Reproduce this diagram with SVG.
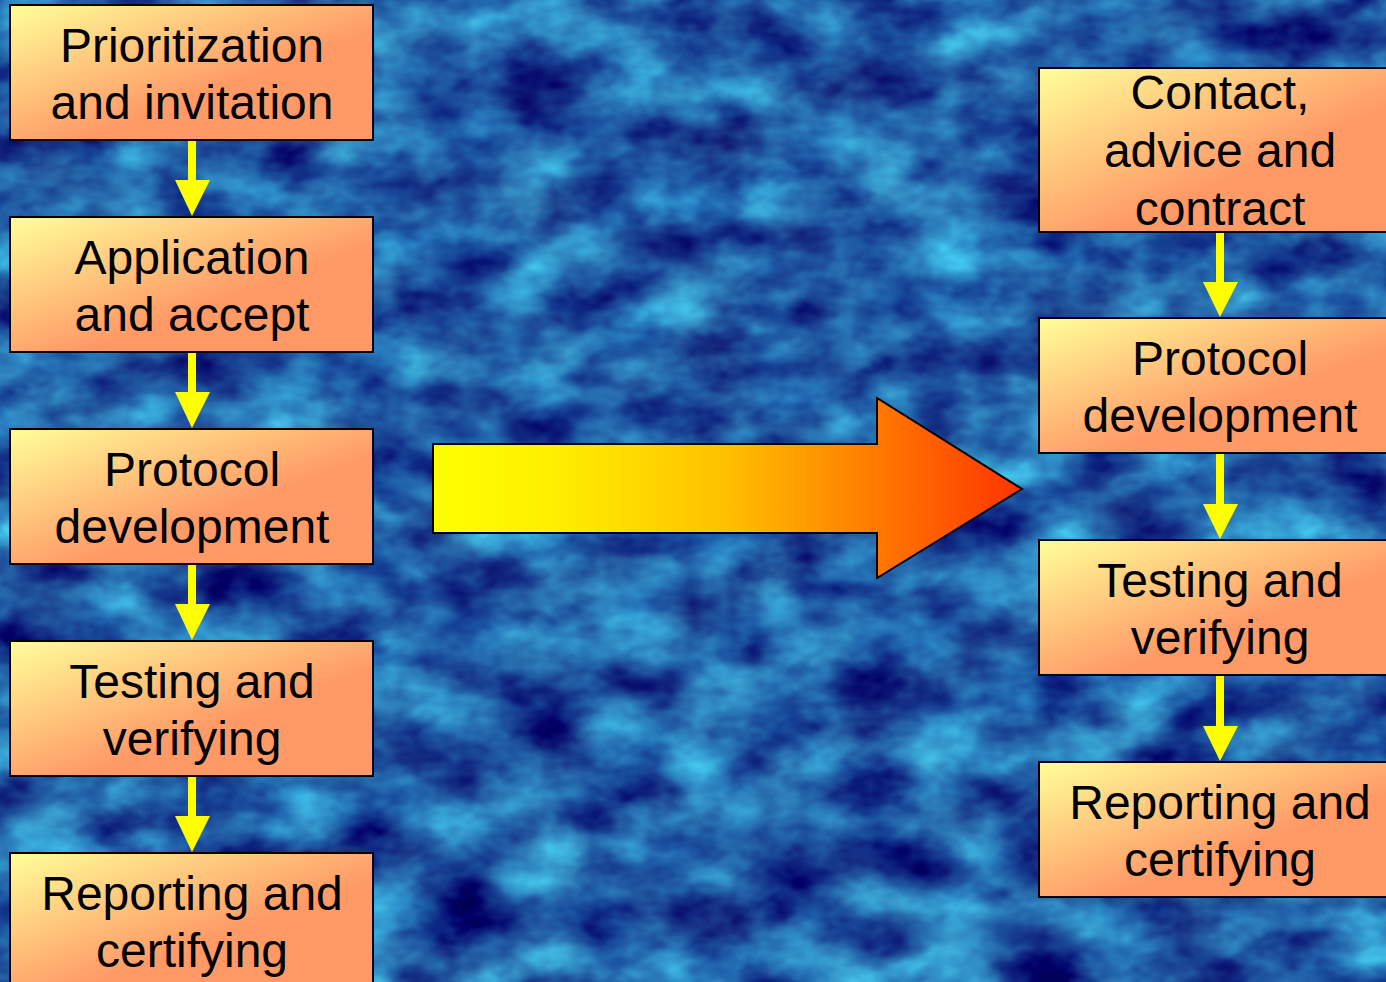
<svg xmlns="http://www.w3.org/2000/svg" width="1386" height="982" viewBox="0 0 1386 982">
<defs>
<style>
.box{fill:url(#boxg);stroke:#000;stroke-width:2}
.lbl{font-family:"Liberation Sans",Arial,sans-serif;font-size:48px;fill:#000;text-anchor:middle}
.stem{stroke:#ffff00;stroke-width:8}
.head{fill:#ffff00}
</style>
<linearGradient id="boxg" x1="0" y1="0" x2="1" y2="1">
<stop offset="0" stop-color="#ffff99"/>
<stop offset="0.6" stop-color="#ff9966"/>
<stop offset="1" stop-color="#ff9966"/>
</linearGradient>
<linearGradient id="bigg" x1="433" y1="0" x2="1022" y2="0" gradientUnits="userSpaceOnUse">
<stop offset="0" stop-color="#ffff00"/>
<stop offset="0.2" stop-color="#fff000"/>
<stop offset="0.5" stop-color="#ffc000"/>
<stop offset="0.75" stop-color="#ff7a00"/>
<stop offset="1" stop-color="#ff3300"/>
</linearGradient>
<filter id="water" x="0" y="0" width="1386" height="982" filterUnits="userSpaceOnUse" color-interpolation-filters="sRGB">
<feTurbulence type="fractalNoise" baseFrequency="0.012 0.018" numOctaves="4" seed="11" result="n"/>
<feColorMatrix in="n" type="matrix" values="0.3 0.2 0 0 -0.12  1.0 0.5 0 0 -0.38  0.7 0.3 0 0 0.15  0 0 0 0 1"/>
</filter>
</defs>
<g id="background">
<rect x="0" y="0" width="1386" height="982" fill="#1a5aa8"/>
<rect x="0" y="0" width="1386" height="982" filter="url(#water)"/>
</g>
<g id="connectors">
<line class="stem" x1="192" y1="141" x2="192" y2="182"/><polygon class="head" points="175,180 210,180 192,216"/>
<line class="stem" x1="192" y1="353" x2="192" y2="394"/><polygon class="head" points="175,392 210,392 192,428"/>
<line class="stem" x1="192" y1="565" x2="192" y2="606"/><polygon class="head" points="175,604 210,604 192,640"/>
<line class="stem" x1="192" y1="777" x2="192" y2="818"/><polygon class="head" points="175,816 210,816 192,852"/>
<line class="stem" x1="1220" y1="233" x2="1220" y2="284"/><polygon class="head" points="1203,282 1238,282 1220,317"/>
<line class="stem" x1="1220" y1="454" x2="1220" y2="506"/><polygon class="head" points="1203,504 1238,504 1220,539"/>
<line class="stem" x1="1220" y1="676" x2="1220" y2="728"/><polygon class="head" points="1203,726 1238,726 1220,761"/>
</g>
<g id="big-arrow">
<polygon points="433,444 877,444 877,398 1022,489 877,578 877,533 433,533" fill="url(#bigg)" stroke="#000" stroke-width="2" stroke-linejoin="miter"/>
</g>
<g id="l1"><rect class="box" x="10" y="5" width="363" height="135"/><text class="lbl" x="192" y="62">Prioritization</text><text class="lbl" x="192" y="119">and invitation</text></g>
<g id="l2"><rect class="box" x="10" y="217" width="363" height="135"/><text class="lbl" x="192" y="274">Application</text><text class="lbl" x="192" y="331">and accept</text></g>
<g id="l3"><rect class="box" x="10" y="429" width="363" height="135"/><text class="lbl" x="192" y="486">Protocol</text><text class="lbl" x="192" y="543">development</text></g>
<g id="l4"><rect class="box" x="10" y="641" width="363" height="135"/><text class="lbl" x="192" y="698">Testing and</text><text class="lbl" x="192" y="755">verifying</text></g>
<g id="l5"><rect class="box" x="10" y="853" width="363" height="135"/><text class="lbl" x="192" y="910">Reporting and</text><text class="lbl" x="192" y="967">certifying</text></g>
<g id="r1"><rect class="box" x="1039" y="68" width="363" height="164"/><text class="lbl" x="1220" y="109">Contact,</text><text class="lbl" x="1220" y="167">advice and</text><text class="lbl" x="1220" y="225">contract</text></g>
<g id="r2"><rect class="box" x="1039" y="318" width="363" height="135"/><text class="lbl" x="1220" y="375">Protocol</text><text class="lbl" x="1220" y="432">development</text></g>
<g id="r3"><rect class="box" x="1039" y="540" width="363" height="135"/><text class="lbl" x="1220" y="597">Testing and</text><text class="lbl" x="1220" y="654">verifying</text></g>
<g id="r4"><rect class="box" x="1039" y="762" width="363" height="135"/><text class="lbl" x="1220" y="819">Reporting and</text><text class="lbl" x="1220" y="876">certifying</text></g>
</svg>
